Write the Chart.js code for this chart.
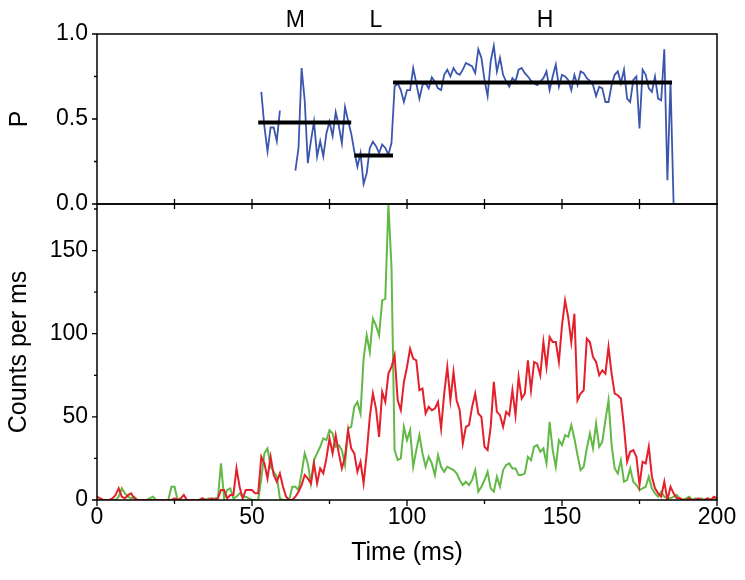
<!DOCTYPE html>
<html>
<head>
<meta charset="utf-8">
<title>P and counts per ms</title>
<script src="https://cdn.jsdelivr.net/npm/chart.js@4.4.1/dist/chart.umd.min.js"></script>
<style>
  html, body { margin: 0; padding: 0; background: #fff; }
  #wrap { position: relative; width: 745px; height: 580px; }
  #wrap canvas { position: absolute; left: 0; top: 0; }
</style>
</head>
<body>
<div id="wrap">
  <canvas id="chartP" width="745" height="580"></canvas>
  <canvas id="chartCounts" width="745" height="580"></canvas>
</div>
<script>
// ---- data (1 ms bins) ----
var binMs = 1;

// counts per ms, t = 0..200
var countStart = 0;
var greenCounts = [
  0,0,0,0,0,0,0,2,7,4,
  2,1,2,0,0,0,0,1,2,0,
  0,0,0,0,8,8,0,0,0,0,
  0,0,0,0,1,0,1,0,1,1,
  22,1,6,7,1,2,4,2,2,1,
  0,0,0,13,28,31,20,17,14,1,
  0,0,0,8,8,6,16,28,22,10,
  24,28,32,37,36,42,40,32,33,30,
  21,43,44,56,59,52,85,99,89,109,
  105,99,120,121,178,140,30,24,25,44,
  36,42,20,30,39,28,20,26,22,15,
  27,20,17,20,19,18,16,12,9,11,
  9,12,18,5,8,12,17,7,5,14,
  8,18,21,22,19,19,15,15,16,26,
  24,32,33,29,31,22,47,30,20,36,
  33,39,38,45,37,27,18,20,31,40,
  31,46,32,35,48,60,33,19,16,24,
  11,12,19,11,9,6,7,8,14,7,
  4,2,5,2,1,1,2,3,1,0,
  1,2,0,1,0,1,0,1,0,1,
  0
];
var redCounts = [
  2,1,0,0,0,1,3,7,2,1,
  3,4,1,0,0,0,0,0,0,0,
  0,0,0,0,0,1,0,1,3,0,
  0,0,0,0,1,0,0,1,0,1,
  6,6,1,3,3,19,8,1,6,6,
  6,4,4,26,22,13,26,15,11,16,
  8,2,0,0,2,5,9,15,13,10,
  22,10,19,16,25,37,28,39,28,19,
  26,42,31,28,17,23,10,28,50,64,
  55,38,65,59,76,80,87,60,54,71,
  80,91,85,84,66,67,52,56,54,55,
  59,43,64,80,60,77,60,54,34,44,
  45,56,64,52,50,32,30,44,71,53,
  51,44,53,51,66,51,74,61,64,84,
  66,83,82,75,95,80,98,95,95,83,
  105,120,110,95,112,60,64,66,97,95,
  86,83,75,78,76,92,76,64,63,61,
  44,23,29,30,26,9,23,22,32,14,
  7,4,2,11,0,8,4,1,1,0,
  0,1,0,0,1,0,0,1,0,2,
  1
];

// P, t = 53..186 (null = no value)
var pStart = 53;
var pValues = [
  0.66,0.455,0.31,0.45,0.45,0.37,0.55,
  null,null,null,null,
  0.196,0.328,0.80,0.61,0.24,0.37,
  0.485,0.28,0.37,0.28,0.415,0.485,0.40,0.54,0.46,0.357,
  0.57,0.49,0.415,0.31,0.22,0.30,0.118,0.18,0.33,0.366,
  0.34,0.30,0.35,0.33,0.29,0.36,0.69,0.71,0.67,0.60,
  0.67,0.67,0.80,0.71,0.62,0.70,0.71,0.68,0.745,0.72,
  0.68,0.67,0.76,0.79,0.75,0.80,0.77,0.76,0.79,0.83,
  0.82,0.81,0.77,0.91,0.86,0.73,0.635,0.84,0.93,0.78,
  0.86,0.76,0.72,0.69,0.74,0.72,0.79,0.80,0.77,0.75,
  0.725,0.71,0.70,0.72,0.74,0.78,0.67,0.75,0.82,0.69,
  0.76,0.75,0.73,0.67,0.76,0.70,0.78,0.77,0.74,0.725,
  0.70,0.635,0.69,0.68,0.60,0.60,0.70,0.76,0.78,0.71,
  0.79,0.62,0.60,0.73,0.75,0.445,0.79,0.76,0.68,0.66,
  0.75,0.62,0.61,0.91,0.14,0.72,0
];

// state levels M / L / H
var stateNames = ['M', 'L', 'H'];
var stateFrom = [52, 83, 95.5];
var stateTo = [82, 95.5, 185.5];
var stateLevel = [0.48, 0.285, 0.715];
var stateLabelTime = [64, 90, 144.5];

// ticks
var pTicks = [0, 0.5, 1.0];
var pMinor = [0.25, 0.75];
var countTicks = [0, 50, 100, 150];
var countMinor = [25, 75, 125, 175];
var countMax = 178;
var timeTicks = [0, 50, 100, 150, 200];
var timeMinor = [25, 75, 125, 175];

// ---- helpers ----
var fam = 'Liberation Sans, Arial, sans-serif';
var tickFont = { family: fam, size: 23 };
var titleFont = { family: fam, size: 25 };

function toPoints(start, values) {
  var out = [];
  for (var i = 0; i < values.length; i++) {
    out.push({ x: start + i * binMs, y: values[i] });
  }
  return out;
}

// frame, tick marks and state letters
var axisFrame = {
  id: 'axisFrame',
  afterDatasetsDraw: function (chart, args, o) {
    var ctx = chart.ctx, a = chart.chartArea;
    var xs = chart.scales.x, ys = chart.scales.y;
    ctx.save();
    ctx.strokeStyle = '#000';
    ctx.lineWidth = 1.5;
    ctx.strokeRect(a.left, a.top, a.right - a.left, a.bottom - a.top);

    ctx.lineWidth = 1.3;
    ctx.beginPath();
    o.yMajor.forEach(function (v) {
      var p = ys.getPixelForValue(v);
      ctx.moveTo(a.left - 5, p); ctx.lineTo(a.left, p);
    });
    o.yMinor.forEach(function (v) {
      var p = ys.getPixelForValue(v);
      ctx.moveTo(a.left - 3, p); ctx.lineTo(a.left, p);
    });
    if (o.xOut) {
      o.xOut.forEach(function (v) {
        var p = xs.getPixelForValue(v);
        ctx.moveTo(p, a.bottom); ctx.lineTo(p, a.bottom + 6);
      });
      o.xOutMinor.forEach(function (v) {
        var p = xs.getPixelForValue(v);
        ctx.moveTo(p, a.bottom); ctx.lineTo(p, a.bottom + 4);
      });
    }
    // ticks on the shared border, pointing into the panel
    o.edgeTicks.forEach(function (v) {
      if (v <= xs.min || v >= xs.max) return;
      var p = xs.getPixelForValue(v);
      if (o.edge === 'bottom') { ctx.moveTo(p, a.bottom); ctx.lineTo(p, a.bottom - 5); }
      else { ctx.moveTo(p, a.top); ctx.lineTo(p, a.top + 5); }
    });
    ctx.stroke();

    if (o.letters) {
      ctx.fillStyle = '#000';
      ctx.font = tickFont.size + 'px ' + fam;
      ctx.textAlign = 'center';
      ctx.textBaseline = 'middle';
      o.letters.forEach(function (s, i) {
        ctx.fillText(s, xs.getPixelForValue(o.letterTime[i]), 21);
      });
    }
    ctx.restore();
  }
};

var allTimeTicks = timeTicks.concat(timeMinor);

// ---- top panel: P ----
var pDatasets = [];
for (var i = 0; i < stateNames.length; i++) {
  pDatasets.push({
    label: stateNames[i],
    data: [{ x: stateFrom[i], y: stateLevel[i] }, { x: stateTo[i], y: stateLevel[i] }],
    borderColor: '#000',
    borderWidth: 4,
    pointRadius: 0
  });
}
pDatasets.push({
  label: 'P',
  data: toPoints(pStart, pValues),
  borderColor: '#3c56ad',
  borderWidth: 1.8,
  pointRadius: 0,
  spanGaps: false
});

new Chart(document.getElementById('chartP'), {
  type: 'line',
  data: { datasets: pDatasets },
  options: {
    responsive: false,
    animation: false,
    devicePixelRatio: 1,
    layout: { padding: { top: 34, right: 28, bottom: 376, left: 0 } },
    plugins: {
      legend: { display: false },
      tooltip: { enabled: false },
      axisFrame: {
        yMajor: pTicks, yMinor: pMinor,
        edge: 'bottom', edgeTicks: allTimeTicks,
        letters: stateNames, letterTime: stateLabelTime
      }
    },
    scales: {
      x: { type: 'linear', min: 0, max: 200, display: false },
      y: {
        min: 0, max: 1,
        afterBuildTicks: function (s) { s.ticks = pTicks.map(function (v) { return { value: v }; }); },
        afterFit: function (s) { s.width = 97; },
        grid: { display: false, drawTicks: false },
        border: { display: false },
        ticks: { font: tickFont, color: '#000', padding: 9, callback: function (v) { return Number(v).toFixed(1); } },
        title: { display: true, text: 'P', font: titleFont, color: '#000', padding: { top: 5, bottom: 0 } }
      }
    }
  },
  plugins: [axisFrame]
});

// ---- bottom panel: counts ----
new Chart(document.getElementById('chartCounts'), {
  type: 'line',
  data: {
    datasets: [
      { label: 'red', data: toPoints(countStart, redCounts), borderColor: '#e3202b', borderWidth: 2, pointRadius: 0 },
      { label: 'green', data: toPoints(countStart, greenCounts), borderColor: '#62b946', borderWidth: 2, pointRadius: 0 }
    ]
  },
  options: {
    responsive: false,
    animation: false,
    devicePixelRatio: 1,
    layout: { padding: { top: 204, right: 28, bottom: 0, left: 0 } },
    plugins: {
      legend: { display: false },
      tooltip: { enabled: false },
      axisFrame: {
        yMajor: countTicks, yMinor: countMinor,
        xOut: timeTicks, xOutMinor: timeMinor,
        edge: 'top', edgeTicks: allTimeTicks
      }
    },
    scales: {
      x: {
        type: 'linear', min: 0, max: 200,
        afterBuildTicks: function (s) { s.ticks = timeTicks.map(function (v) { return { value: v }; }); },
        afterFit: function (s) { s.height = 80; },
        grid: { display: false, drawTicks: false },
        border: { display: false },
        ticks: { font: tickFont, color: '#000', padding: 4, maxRotation: 0 },
        title: { display: true, text: 'Time (ms)', font: titleFont, color: '#000', padding: { top: 0, bottom: 12 } }
      },
      y: {
        min: 0, max: countMax,
        afterBuildTicks: function (s) { s.ticks = countTicks.map(function (v) { return { value: v }; }); },
        afterFit: function (s) { s.width = 97; },
        grid: { display: false, drawTicks: false },
        border: { display: false },
        ticks: { font: tickFont, color: '#000', padding: 9 },
        title: { display: true, text: 'Counts per ms', font: titleFont, color: '#000', padding: { top: 4, bottom: 0 } }
      }
    }
  },
  plugins: [axisFrame]
});
</script>
</body>
</html>
